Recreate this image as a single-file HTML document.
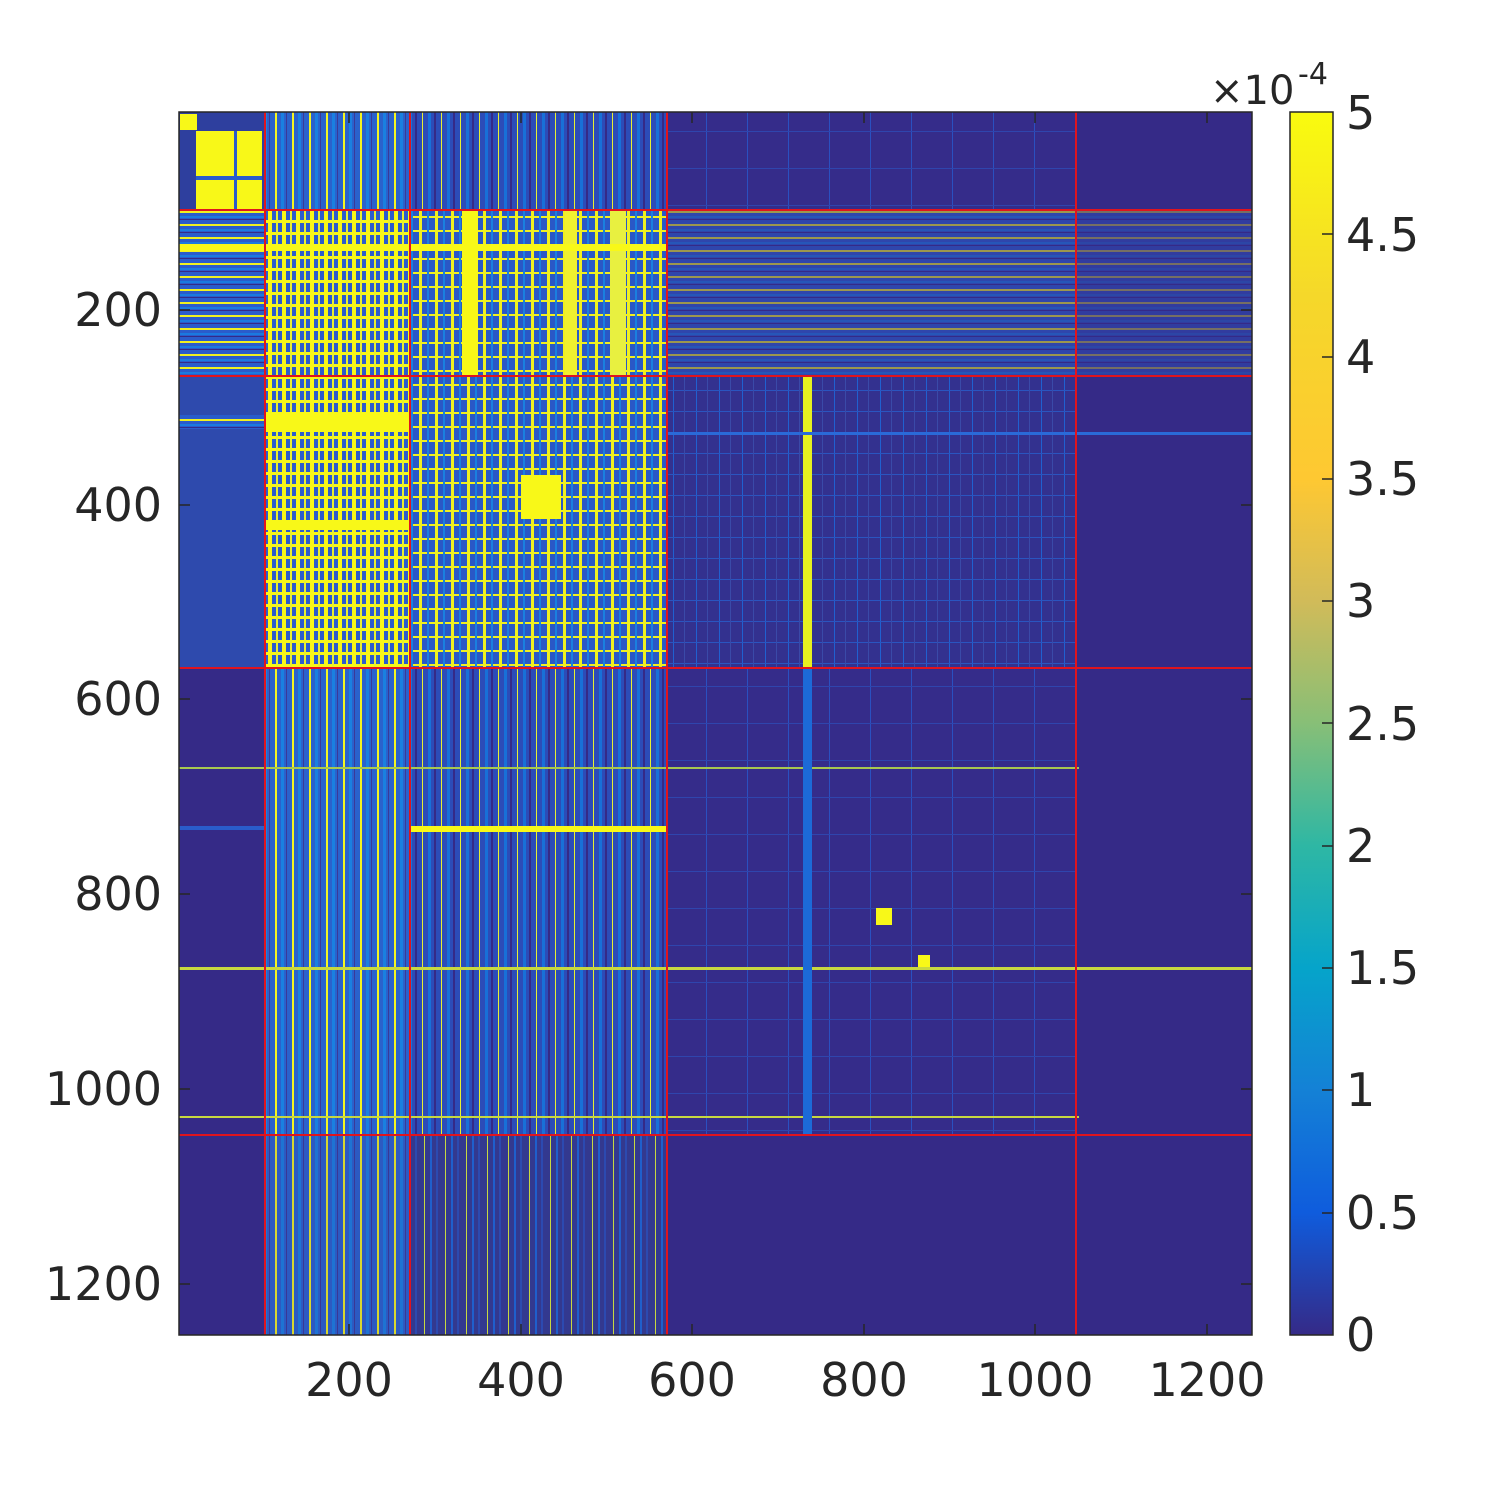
<!DOCTYPE html>
<html><head><meta charset="utf-8"><style>
html,body{margin:0;padding:0;background:#fff;}
svg{display:block;}
text{font-family:"DejaVu Sans","Liberation Sans",sans-serif;fill:#262626;}
</style></head><body>
<svg width="1500" height="1500" viewBox="0 0 1500 1500" xmlns="http://www.w3.org/2000/svg">
<defs>
<pattern id="pv" x="0" y="0" width="17" height="10" patternUnits="userSpaceOnUse">
<rect width="17" height="10" fill="#2a62cc"/><rect x="3" width="2" height="10" fill="#f5f520"/><rect x="9" width="3" height="10" fill="#1a80e0"/><rect x="14" width="1" height="10" fill="#3a3a98"/>
</pattern>
<pattern id="pvd" x="0" y="0" width="19" height="10" patternUnits="userSpaceOnUse">
<rect width="19" height="10" fill="#2c4cb8"/><rect x="4" width="1" height="10" fill="#e8f030"/><rect x="10" width="3" height="10" fill="#1870d8"/><rect x="16" width="2" height="10" fill="#352a87"/>
</pattern>
<pattern id="pvl" x="0" y="0" width="21" height="10" patternUnits="userSpaceOnUse">
<rect width="21" height="10" fill="#33398f"/><rect x="4" width="1" height="10" fill="#c8d840"/><rect x="10" width="2" height="10" fill="#1f5fcc"/><rect x="16" width="2" height="10" fill="#2c4ab0"/>
</pattern>
<pattern id="ph" x="0" y="0" width="10" height="13" patternUnits="userSpaceOnUse">
<rect width="10" height="13" fill="#2a5ccb"/><rect y="3" width="10" height="2" fill="#f0f020"/><rect y="8" width="10" height="2" fill="#1a7ae0"/><rect y="11" width="10" height="1" fill="#352a87"/>
</pattern>
<pattern id="pg" x="0" y="0" width="14" height="12" patternUnits="userSpaceOnUse">
<rect width="14" height="12" fill="#2c5ccc"/><rect x="2" width="4" height="12" fill="#f8f818"/><rect y="4" width="14" height="3" fill="#f8f818"/><rect x="10" width="2" height="12" fill="#e8f030"/>
</pattern>
<pattern id="pm" x="0" y="0" width="16" height="14" patternUnits="userSpaceOnUse">
<rect width="16" height="14" fill="#2a58c6"/><rect x="3" width="3" height="14" fill="#f0f020"/><rect y="6" width="16" height="2" fill="#f0f020"/><rect x="11" width="2" height="14" fill="#1a80e0"/>
</pattern>
<pattern id="pk" x="0" y="0" width="23" height="21" patternUnits="userSpaceOnUse">
<rect width="23" height="21" fill="#33318f"/><rect x="6" width="1" height="21" fill="#2060d0"/><rect y="12" width="23" height="1" fill="#2a55c0"/><rect x="17" width="1" height="21" fill="#3a4aa8"/>
</pattern>
<pattern id="pk2" x="0" y="0" width="41" height="37" patternUnits="userSpaceOnUse">
<rect width="41" height="37" fill="#352c8a"/><rect x="9" width="1" height="37" fill="#2a50c0"/><rect y="20" width="41" height="1" fill="#2f45ad"/>
</pattern>
</defs>
<rect x="179" y="112" width="1073" height="1223" fill="#352a87"/>
<!-- top-left -->
<rect x="179" y="112" width="86" height="98" fill="#2e3f9e"/>
<rect x="196" y="131" width="66" height="79" fill="#f8f818"/>
<rect x="196" y="176" width="66" height="4" fill="#2a5ccb"/>
<rect x="234" y="131" width="3" height="79" fill="#2a5ccb"/>
<rect x="180" y="114" width="17" height="16" fill="#f8f818"/>
<!-- top band -->
<rect x="265" y="112" width="145" height="98" fill="url(#pv)"/>
<rect x="410" y="112" width="257" height="98" fill="url(#pvd)"/>
<rect x="667" y="112" width="409" height="98" fill="url(#pk2)"/>
<!-- row 210-376 -->
<rect x="179" y="210" width="86" height="166" fill="url(#ph)"/>
<rect x="265" y="210" width="145" height="166" fill="url(#pg)"/>
<rect x="410" y="210" width="257" height="166" fill="url(#pm)"/>
<rect x="462" y="210" width="16" height="166" fill="#f8f818"/>
<rect x="565" y="210" width="12" height="166" fill="#f0f030"/>
<rect x="610" y="210" width="16" height="166" fill="#e8f040"/>
<rect x="179" y="244" width="488" height="7" fill="#f8f818"/>
<rect x="667" y="210" width="409" height="166" fill="url(#ph)" opacity="0.55"/>
<rect x="1076" y="210" width="176" height="166" fill="url(#ph)" opacity="0.35"/>
<!-- row 376-668 -->
<rect x="179" y="376" width="86" height="292" fill="#2e4aad"/>
<rect x="179" y="415" width="86" height="14" fill="url(#ph)"/>
<rect x="265" y="376" width="145" height="292" fill="url(#pg)"/>
<rect x="265" y="412" width="145" height="20" fill="#f8f818"/>
<rect x="265" y="520" width="145" height="10" fill="#f8f818"/>
<rect x="410" y="376" width="257" height="292" fill="url(#pm)"/>
<rect x="521" y="475" width="40" height="44" fill="#f8f818"/>
<rect x="667" y="376" width="409" height="292" fill="url(#pk)"/>
<rect x="803" y="376" width="9" height="292" fill="#e8f020"/>
<rect x="667" y="432" width="585" height="3" fill="#2a6ad8"/>
<!-- row 668-1135 -->
<rect x="265" y="668" width="145" height="467" fill="url(#pv)"/>
<rect x="410" y="668" width="257" height="467" fill="url(#pvd)"/>
<rect x="667" y="668" width="409" height="467" fill="url(#pk2)"/>
<rect x="410" y="826" width="257" height="6" fill="#f8f818"/>
<rect x="179" y="826" width="86" height="4" fill="#2a5ccb"/>
<rect x="179" y="967" width="1073" height="3" fill="#c8d840"/>
<rect x="179" y="1116" width="900" height="2" fill="#c8d840"/>
<rect x="179" y="767" width="900" height="2" fill="#a8c850"/>
<rect x="803" y="668" width="9" height="467" fill="#1c6ad8"/>
<rect x="876" y="908" width="16" height="17" fill="#f8f818"/>
<rect x="918" y="955" width="12" height="12" fill="#f8f818"/>
<!-- bottom rows -->
<rect x="265" y="1135" width="145" height="200" fill="url(#pv)" opacity="0.85"/>
<rect x="410" y="1135" width="257" height="200" fill="url(#pvl)"/>
<!-- red lines -->
<g stroke="#e0141e" stroke-width="2">
<line x1="265" y1="112" x2="265" y2="1335"/>
<line x1="410" y1="112" x2="410" y2="1335"/>
<line x1="667" y1="112" x2="667" y2="1335"/>
<line x1="1076" y1="112" x2="1076" y2="1335"/>
<line x1="179" y1="210" x2="1252" y2="210"/>
<line x1="179" y1="376" x2="1252" y2="376"/>
<line x1="179" y1="668" x2="1252" y2="668"/>
<line x1="179" y1="1135" x2="1252" y2="1135"/>
</g>
<rect x="179" y="112" width="1073" height="1223" fill="none" stroke="#262626" stroke-width="1.5"/>
<!-- ticks -->
<g stroke="#262626" stroke-width="1.5">
<line x1="349" y1="1335" x2="349" y2="1324"/><line x1="521" y1="1335" x2="521" y2="1324"/><line x1="692" y1="1335" x2="692" y2="1324"/><line x1="864" y1="1335" x2="864" y2="1324"/><line x1="1035" y1="1335" x2="1035" y2="1324"/><line x1="1207" y1="1335" x2="1207" y2="1324"/>
<line x1="349" y1="112" x2="349" y2="123"/><line x1="521" y1="112" x2="521" y2="123"/><line x1="692" y1="112" x2="692" y2="123"/><line x1="864" y1="112" x2="864" y2="123"/><line x1="1035" y1="112" x2="1035" y2="123"/><line x1="1207" y1="112" x2="1207" y2="123"/>
<line x1="179" y1="310" x2="190" y2="310"/><line x1="179" y1="505" x2="190" y2="505"/><line x1="179" y1="699" x2="190" y2="699"/><line x1="179" y1="894" x2="190" y2="894"/><line x1="179" y1="1089" x2="190" y2="1089"/><line x1="179" y1="1284" x2="190" y2="1284"/>
<line x1="1252" y1="310" x2="1241" y2="310"/><line x1="1252" y1="505" x2="1241" y2="505"/><line x1="1252" y1="699" x2="1241" y2="699"/><line x1="1252" y1="894" x2="1241" y2="894"/><line x1="1252" y1="1089" x2="1241" y2="1089"/><line x1="1252" y1="1284" x2="1241" y2="1284"/>
</g>
<g font-size="46" text-anchor="middle">
<text x="349" y="1396">200</text><text x="521" y="1396">400</text><text x="692" y="1396">600</text><text x="864" y="1396">800</text><text x="1035" y="1396">1000</text><text x="1207" y="1396">1200</text>
</g>
<g font-size="46" text-anchor="end">
<text x="162" y="326">200</text><text x="162" y="521">400</text><text x="162" y="715">600</text><text x="162" y="910">800</text><text x="162" y="1105">1000</text><text x="162" y="1300">1200</text>
</g>
<!-- colorbar -->
<defs><linearGradient id="parula" x1="0" y1="1" x2="0" y2="0">
<stop offset="0" stop-color="#352a87"/><stop offset="0.1" stop-color="#0f5cdd"/><stop offset="0.2" stop-color="#1481d6"/><stop offset="0.3" stop-color="#06a4ca"/><stop offset="0.4" stop-color="#2eb7a4"/><stop offset="0.5" stop-color="#87bf77"/><stop offset="0.6" stop-color="#d1bb59"/><stop offset="0.7" stop-color="#fec832"/><stop offset="0.85" stop-color="#f5d82a"/><stop offset="1" stop-color="#f9fb0e"/>
</linearGradient></defs>
<rect x="1290" y="112" width="43" height="1223" fill="url(#parula)" stroke="#262626" stroke-width="1.5"/>
<g stroke="#262626" stroke-width="1.5">
<line x1="1322" y1="234" x2="1333" y2="234"/><line x1="1322" y1="357" x2="1333" y2="357"/><line x1="1322" y1="479" x2="1333" y2="479"/><line x1="1322" y1="601" x2="1333" y2="601"/><line x1="1322" y1="723" x2="1333" y2="723"/><line x1="1322" y1="846" x2="1333" y2="846"/><line x1="1322" y1="968" x2="1333" y2="968"/><line x1="1322" y1="1090" x2="1333" y2="1090"/><line x1="1322" y1="1213" x2="1333" y2="1213"/>
</g>
<g font-size="46">
<text x="1346" y="129">5</text><text x="1346" y="251">4.5</text><text x="1346" y="373">4</text><text x="1346" y="495">3.5</text><text x="1346" y="617">3</text><text x="1346" y="740">2.5</text><text x="1346" y="862">2</text><text x="1346" y="984">1.5</text><text x="1346" y="1106">1</text><text x="1346" y="1229">0.5</text><text x="1346" y="1351">0</text>
</g>
<text x="1210" y="104" font-size="40">×10</text>
<text x="1298" y="84" font-size="30">-4</text>
</svg>
</body></html>
